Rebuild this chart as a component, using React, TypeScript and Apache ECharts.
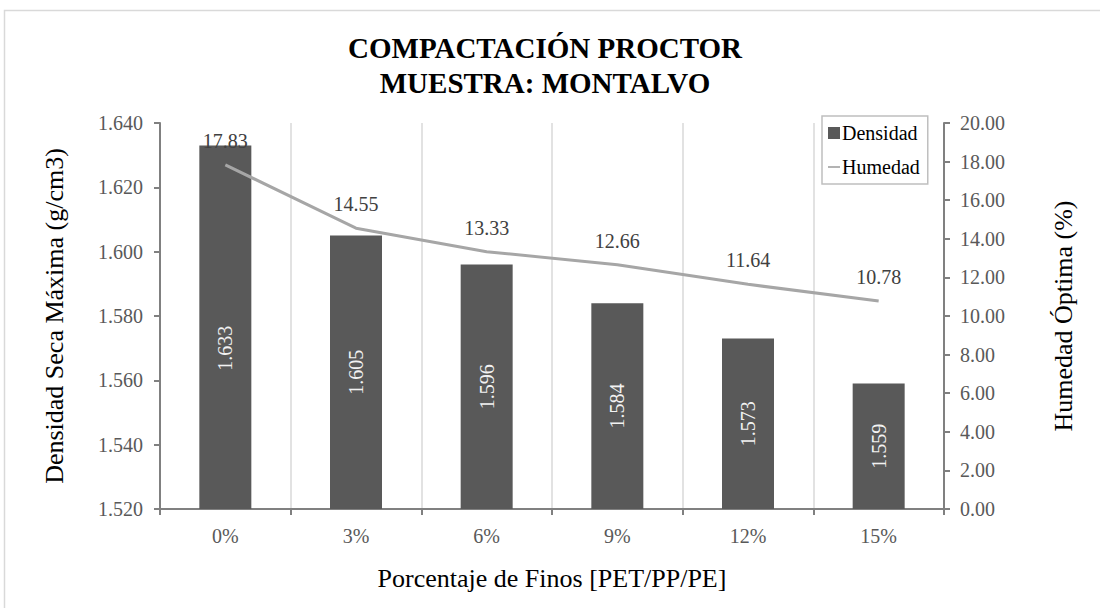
import React, { useEffect, useRef } from "react";
import * as echarts from "echarts";

const categories = ["0%", "3%", "6%", "9%", "12%", "15%"];
const densidad = [1.633, 1.605, 1.596, 1.584, 1.573, 1.559];
const humedad = [17.83, 14.55, 13.33, 12.66, 11.64, 10.78];

const FONT = "Liberation Serif, Times New Roman, serif";

export default function App() {
  const ref = useRef<HTMLDivElement>(null);
  useEffect(() => {
    if (!ref.current) return;
    const chart = echarts.init(ref.current, undefined, { renderer: "svg" });
    chart.setOption({
      animation: false,
      backgroundColor: "#ffffff",
      textStyle: { fontFamily: FONT },
      graphic: [
        {
          type: "rect",
          shape: { x: 4.5, y: 10.5, width: 1200, height: 800 },
          style: { fill: "none", stroke: "#d9d9d9", lineWidth: 1.5 },
          silent: true,
          z: -10,
        },
      ],
      title: {
        text: "COMPACTACIÓN PROCTOR\nMUESTRA: MONTALVO",
        left: 540,
        top: 25,
        textAlign: "center",
        textStyle: {
          fontFamily: FONT,
          fontWeight: "bold",
          fontSize: 29,
          lineHeight: 35,
          color: "#000000",
        },
      },
      legend: {
        orient: "vertical",
        left: 822,
        top: 116,
        padding: [7, 8, 7, 6],
        itemGap: 14,
        itemWidth: 12,
        itemHeight: 12,
        itemStyle: { borderWidth: 0 },
        symbolKeepAspect: true,
        borderColor: "#bfbfbf",
        borderWidth: 1.5,
        backgroundColor: "#ffffff",
        textStyle: { fontFamily: FONT, fontSize: 20, color: "#000000", padding: [0, 0, 0, -3] },
        data: [
          { name: "Densidad", icon: "rect" },
          { name: "Humedad", icon: "path://M0,0H14V2H0Z" },
        ],
      },
      grid: { left: 160, right: 156, top: 123, bottom: 99, containLabel: false },
      xAxis: {
        type: "category",
        data: categories,
        name: "Porcentaje de Finos [PET/PP/PE]",
        nameLocation: "middle",
        nameGap: 56,
        nameTextStyle: { fontFamily: FONT, fontSize: 26, color: "#000000" },
        axisLine: { lineStyle: { color: "#808080", width: 2 } },
        axisTick: { show: true, length: 6, lineStyle: { color: "#808080", width: 2 } },
        axisLabel: { fontFamily: FONT, fontSize: 20, color: "#595959", margin: 17 },
        splitLine: { show: true, lineStyle: { color: "#d9d9d9", width: 1.5 } },
      },
      yAxis: [
        {
          type: "value",
          min: 1.52,
          max: 1.64,
          interval: 0.02,
          name: "Densidad Seca Máxima (g/cm3)",
          nameLocation: "middle",
          nameRotate: 90,
          nameGap: 93,
          nameTextStyle: { fontFamily: FONT, fontSize: 26, color: "#000000" },
          axisLine: { show: true, lineStyle: { color: "#808080", width: 2 } },
          axisTick: { show: true, length: 6, lineStyle: { color: "#808080", width: 2 } },
          axisLabel: {
            fontFamily: FONT,
            fontSize: 20,
            color: "#595959",
            margin: 17,
            formatter: (v: number) => v.toFixed(3),
          },
          splitLine: { show: false },
        },
        {
          type: "value",
          min: 0,
          max: 20,
          interval: 2,
          name: "Humedad Óptima (%)",
          nameLocation: "middle",
          nameRotate: 90,
          nameGap: 106,
          nameTextStyle: { fontFamily: FONT, fontSize: 26, color: "#000000" },
          axisLine: { show: true, lineStyle: { color: "#808080", width: 2 } },
          axisTick: { show: true, length: 6, lineStyle: { color: "#808080", width: 2 } },
          axisLabel: {
            fontFamily: FONT,
            fontSize: 20,
            color: "#595959",
            margin: 16,
            formatter: (v: number) => v.toFixed(2),
          },
          splitLine: { show: false },
        },
      ],
      series: [
        {
          name: "Densidad",
          type: "bar",
          yAxisIndex: 0,
          data: densidad.map((v, i) =>
            i === 0 ? { value: v, label: { offset: [-21, 0] } } : v
          ),
          barWidth: 52,
          itemStyle: { color: "#595959" },
          label: {
            show: true,
            position: "inside",
            rotate: 90,
            fontFamily: FONT,
            fontSize: 20,
            color: "#f2f2f2",
            formatter: (p: any) => Number(p.value).toFixed(3),
          },
          z: 2,
        },
        {
          name: "Humedad",
          type: "line",
          yAxisIndex: 1,
          data: humedad,
          symbol: "circle",
          symbolSize: 0.1,
          showSymbol: true,
          itemStyle: { color: "#a6a6a6" },
          lineStyle: { color: "#a6a6a6", width: 3 },
          label: {
            show: true,
            position: "top",
            distance: 14,
            fontFamily: FONT,
            fontSize: 20,
            color: "#404040",
            formatter: (p: any) => Number(p.value).toFixed(2),
          },
          z: 3,
        },
      ],
    });
    return () => chart.dispose();
  }, []);
  return (
    <div
      ref={ref}
      style={{ position: "absolute", left: 0, top: 0, width: 1100, height: 608 }}
    />
  );
}
